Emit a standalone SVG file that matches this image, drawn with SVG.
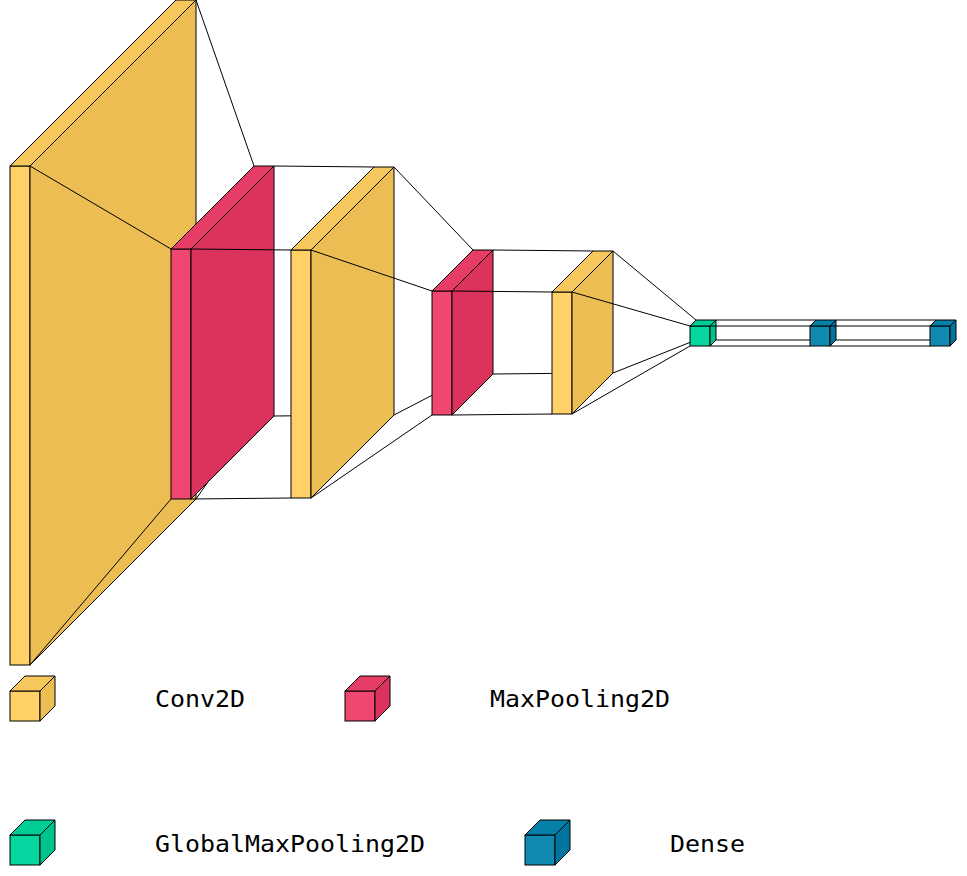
<svg xmlns="http://www.w3.org/2000/svg" width="967" height="876" viewBox="0 0 967 876">
<style>
  .o { stroke: #000; stroke-width: 1; stroke-linejoin: miter; }
  .cf { fill: #FFD166; } .ct { fill: #F5C75C; } .cr { fill: #EBBD52; }
  .mf { fill: #EF476F; } .mt { fill: #E53D65; } .mr { fill: #DB335B; }
  .gf { fill: #06D6A0; } .gt { fill: #00CC96; } .gr { fill: #00C28C; }
  .df { fill: #118AB2; } .dt { fill: #0780A8; } .dr { fill: #00769E; }
  .edge line { stroke: #000; stroke-width: 1; }
  .lbl { font-family: "DejaVu Sans Mono", "Liberation Mono", monospace; font-size: 23px; fill: #000; }
</style>
<rect width="967" height="876" fill="#fff"/>

<g id="layer1-conv2d" class="o">
  <rect class="cf" x="10" y="166" width="20" height="499"/>
  <polygon class="ct" points="10,166 176,0 196,0 30,166"/>
  <polygon class="cr" points="30,166 196,0 196,499 30,665"/>
</g>
<g id="edges-1-2" class="edge">
  <line x1="196" y1="0" x2="254" y2="166"/>
  <line x1="196" y1="499" x2="254" y2="416"/>
  <line x1="30" y1="665" x2="171" y2="499"/>
  <line x1="30" y1="166" x2="171" y2="249"/>
</g>
<g id="layer2-maxpool" class="o">
  <rect class="mf" x="171" y="249" width="20" height="250"/>
  <polygon class="mt" points="171,249 254,166 274,166 191,249"/>
  <polygon class="mr" points="191,249 274,166 274,416 191,499"/>
</g>
<g id="edges-2-3" class="edge">
  <line x1="274" y1="166" x2="374" y2="167"/>
  <line x1="274" y1="416" x2="374" y2="415"/>
  <line x1="191" y1="499" x2="291" y2="498"/>
  <line x1="191" y1="249" x2="291" y2="250"/>
</g>
<g id="layer3-conv2d" class="o">
  <rect class="cf" x="291" y="250" width="20" height="248"/>
  <polygon class="ct" points="291,250 374,167 394,167 311,250"/>
  <polygon class="cr" points="311,250 394,167 394,415 311,498"/>
</g>
<g id="edges-3-4" class="edge">
  <line x1="394" y1="167" x2="473" y2="250"/>
  <line x1="394" y1="415" x2="473" y2="374"/>
  <line x1="311" y1="498" x2="432" y2="415"/>
  <line x1="311" y1="250" x2="432" y2="291"/>
</g>
<g id="layer4-maxpool" class="o">
  <rect class="mf" x="432" y="291" width="20" height="124"/>
  <polygon class="mt" points="432,291 473,250 493,250 452,291"/>
  <polygon class="mr" points="452,291 493,250 493,374 452,415"/>
</g>
<g id="edges-4-5" class="edge">
  <line x1="493" y1="250" x2="593" y2="251"/>
  <line x1="493" y1="374" x2="593" y2="373"/>
  <line x1="452" y1="415" x2="552" y2="414"/>
  <line x1="452" y1="291" x2="552" y2="292"/>
</g>
<g id="layer5-conv2d" class="o">
  <rect class="cf" x="552" y="292" width="20" height="122"/>
  <polygon class="ct" points="552,292 593,251 613,251 572,292"/>
  <polygon class="cr" points="572,292 613,251 613,373 572,414"/>
</g>
<g id="edges-5-6" class="edge">
  <line x1="613" y1="251" x2="696" y2="320"/>
  <line x1="613" y1="373" x2="696" y2="340"/>
  <line x1="572" y1="414" x2="690" y2="346"/>
  <line x1="572" y1="292" x2="690" y2="326"/>
</g>
<g id="layer6-globalmaxpool" class="o">
  <rect class="gf" x="690" y="326" width="20" height="20"/>
  <polygon class="gt" points="690,326 696,320 716,320 710,326"/>
  <polygon class="gr" points="710,326 716,320 716,340 710,346"/>
</g>
<g id="edges-6-7" class="edge">
  <line x1="716" y1="320" x2="816" y2="320"/>
  <line x1="716" y1="340" x2="816" y2="340"/>
  <line x1="710" y1="346" x2="810" y2="346"/>
  <line x1="710" y1="326" x2="810" y2="326"/>
</g>
<g id="layer7-dense" class="o">
  <rect class="df" x="810" y="326" width="20" height="20"/>
  <polygon class="dt" points="810,326 816,320 836,320 830,326"/>
  <polygon class="dr" points="830,326 836,320 836,340 830,346"/>
</g>
<g id="edges-7-8" class="edge">
  <line x1="836" y1="320" x2="936" y2="320"/>
  <line x1="836" y1="340" x2="936" y2="340"/>
  <line x1="830" y1="346" x2="930" y2="346"/>
  <line x1="830" y1="326" x2="930" y2="326"/>
</g>
<g id="layer8-dense" class="o">
  <rect class="df" x="930" y="326" width="20" height="20"/>
  <polygon class="dt" points="930,326 936,320 956,320 950,326"/>
  <polygon class="dr" points="950,326 956,320 956,340 950,346"/>
</g>

<g id="legend-conv2d">
  <g class="o">
    <rect class="cf" x="10" y="691" width="30" height="30"/>
    <polygon class="ct" points="10,691 25,676 55,676 40,691"/>
    <polygon class="cr" points="40,691 55,676 55,706 40,721"/>
  </g>
  <text class="lbl" x="155" y="707" textLength="90" lengthAdjust="spacingAndGlyphs">Conv2D</text>
</g>
<g id="legend-maxpooling2d">
  <g class="o">
    <rect class="mf" x="345" y="691" width="30" height="30"/>
    <polygon class="mt" points="345,691 360,676 390,676 375,691"/>
    <polygon class="mr" points="375,691 390,676 390,706 375,721"/>
  </g>
  <text class="lbl" x="490" y="707" textLength="180" lengthAdjust="spacingAndGlyphs">MaxPooling2D</text>
</g>
<g id="legend-globalmaxpooling2d">
  <g class="o">
    <rect class="gf" x="10" y="835" width="30" height="30"/>
    <polygon class="gt" points="10,835 25,820 55,820 40,835"/>
    <polygon class="gr" points="40,835 55,820 55,850 40,865"/>
  </g>
  <text class="lbl" x="155" y="852" textLength="270" lengthAdjust="spacingAndGlyphs">GlobalMaxPooling2D</text>
</g>
<g id="legend-dense">
  <g class="o">
    <rect class="df" x="525" y="835" width="30" height="30"/>
    <polygon class="dt" points="525,835 540,820 570,820 555,835"/>
    <polygon class="dr" points="555,835 570,820 570,850 555,865"/>
  </g>
  <text class="lbl" x="670" y="852" textLength="75" lengthAdjust="spacingAndGlyphs">Dense</text>
</g>
</svg>
